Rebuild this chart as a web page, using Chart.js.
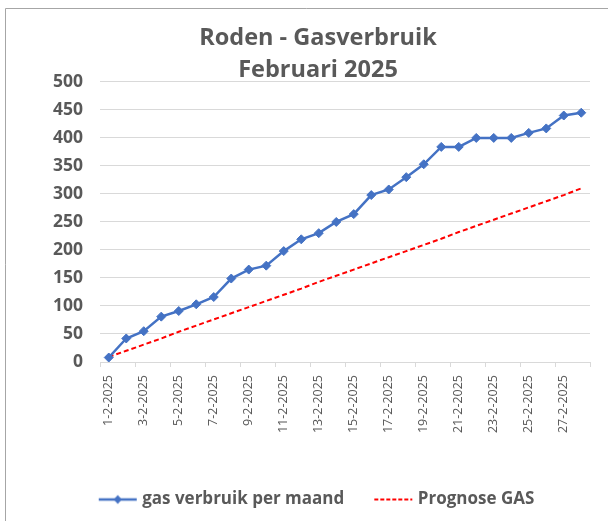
<!DOCTYPE html>
<html>
<head>
<meta charset="utf-8">
<script src="https://cdn.jsdelivr.net/npm/chart.js@4/dist/chart.umd.min.js"></script>
<style>
  html, body { margin: 0; padding: 0; background: #fff; }
  #wrap { width: 608px; height: 521px; }
</style>
</head>
<body>
<div id="wrap"><canvas id="gasChart" width="608" height="521"></canvas></div>
<script>
// ===== Data =====
const dates = [
    "1-2-2025", "2-2-2025", "3-2-2025", "4-2-2025", "5-2-2025", "6-2-2025", "7-2-2025",
    "8-2-2025", "9-2-2025", "10-2-2025", "11-2-2025", "12-2-2025", "13-2-2025", "14-2-2025",
    "15-2-2025", "16-2-2025", "17-2-2025", "18-2-2025", "19-2-2025", "20-2-2025", "21-2-2025",
    "22-2-2025", "23-2-2025", "24-2-2025", "25-2-2025", "26-2-2025", "27-2-2025", "28-2-2025"
];
const gasVerbruik = [8, 42, 55, 81, 91, 103, 116, 149, 165, 172, 198, 219, 230, 250,
    264, 298, 308, 330, 353, 384, 384, 400, 400, 400, 409, 417, 440, 445];
const prognoseGas = [9, 20, 31, 42, 54, 65, 76, 87, 98, 109, 120, 131, 143, 154,
    165, 176, 187, 198, 209, 220, 232, 243, 254, 265, 276, 287, 298, 310];
const yTicks = { min: 0, max: 500, step: 50 };

const BLUE = "#4472C4";
const RED = "#FF0000";
const TEXT = "#595959";
const GRID = "#D9D9D9";
const FONT = "'Open Sans', 'Liberation Sans', sans-serif";

// ===== Legend samples (line + marker) =====
function legendSample(color, dashed) {
    const c = document.createElement("canvas");
    c.width = 42;
    c.height = 12;
    const g = c.getContext("2d");
    g.strokeStyle = color;
    g.lineWidth = dashed ? 2 : 2.5;
    if (dashed) g.setLineDash([4, 2]);
    g.beginPath();
    g.moveTo(2, 6);
    g.lineTo(40, 6);
    g.stroke();
    if (!dashed) {
        g.fillStyle = color;
        g.beginPath();
        g.moveTo(21, 1.5);
        g.lineTo(25, 6);
        g.lineTo(21, 10.5);
        g.lineTo(17, 6);
        g.closePath();
        g.fill();
    }
    return c;
}
const blueSample = legendSample(BLUE, false);
const redSample = legendSample(RED, true);

// ===== Outer frame =====
const framePlugin = {
    id: "frame",
    afterDraw(chart) {
        const ctx = chart.ctx;
        ctx.save();
        ctx.strokeStyle = "#A6A6A6";
        ctx.lineWidth = 1;
        ctx.beginPath();
        ctx.moveTo(5.5, chart.height);
        ctx.lineTo(5.5, 8.5);
        ctx.lineTo(chart.width, 8.5);
        ctx.stroke();
        ctx.restore();
    }
};

// ===== Chart =====
new Chart(document.getElementById("gasChart").getContext("2d"), {
    type: "line",
    data: {
        labels: dates,
        datasets: [{
            label: "gas verbruik per maand",
            data: gasVerbruik,
            borderColor: BLUE,
            backgroundColor: BLUE,
            borderWidth: 2.5,
            pointStyle: "rectRot",
            pointRadius: 4.5,
            pointHoverRadius: 4.5,
            pointBorderWidth: 1,
            tension: 0
        }, {
            label: "Prognose GAS",
            data: prognoseGas,
            borderColor: RED,
            backgroundColor: RED,
            borderWidth: 2,
            borderDash: [5, 3],
            pointRadius: 0,
            tension: 0
        }]
    },
    options: {
        responsive: false,
        animation: false,
        layout: { padding: { left: 46, right: 18, top: 0, bottom: 3 } },
        scales: {
            x: {
                offset: true,
                grid: {
                    offset: true,
                    drawOnChartArea: false,
                    drawTicks: true,
                    tickLength: 5,
                    color: (ctx) => (ctx.index === undefined || ctx.index % 2 === 0) ? GRID : "transparent"
                },
                border: { display: true, color: GRID, width: 1 },
                ticks: {
                    autoSkip: false,
                    maxRotation: 90,
                    minRotation: 90,
                    padding: 8,
                    color: TEXT,
                    font: { family: FONT, size: 12.5 },
                    callback: function (val, index) {
                        return index % 2 === 0 ? this.getLabelForValue(val) : "";
                    }
                },
                afterFit(scale) { scale.height = 96; }
            },
            y: {
                min: yTicks.min,
                max: yTicks.max,
                grid: { color: GRID, drawTicks: false },
                border: { display: false },
                ticks: {
                    stepSize: yTicks.step,
                    padding: 17,
                    color: TEXT,
                    font: { family: FONT, size: 17.5, weight: "bold" }
                },
                afterFit(scale) { scale.width = 54; }
            }
        },
        plugins: {
            title: {
                display: true,
                text: ["Roden - Gasverbruik", "Februari 2025"],
                color: TEXT,
                font: { family: FONT, size: 23.5, weight: "bold", lineHeight: 1.36 },
                padding: { top: 22, bottom: -4 }
            },
            legend: {
                position: "bottom",
                labels: {
                    usePointStyle: true,
                    pointStyleWidth: 32,
                    padding: 33,
                    color: TEXT,
                    font: { family: FONT, size: 17, weight: "bold" },
                    generateLabels: (chart) => chart.data.datasets.map((ds, i) => ({
                        text: ds.label,
                        pointStyle: i === 0 ? blueSample : redSample,
                        fontColor: TEXT,
                        datasetIndex: i,
                        hidden: false,
                        lineWidth: 0
                    }))
                }
            },
            tooltip: { enabled: false }
        }
    },
    plugins: [framePlugin]
});
</script>
</body>
</html>
